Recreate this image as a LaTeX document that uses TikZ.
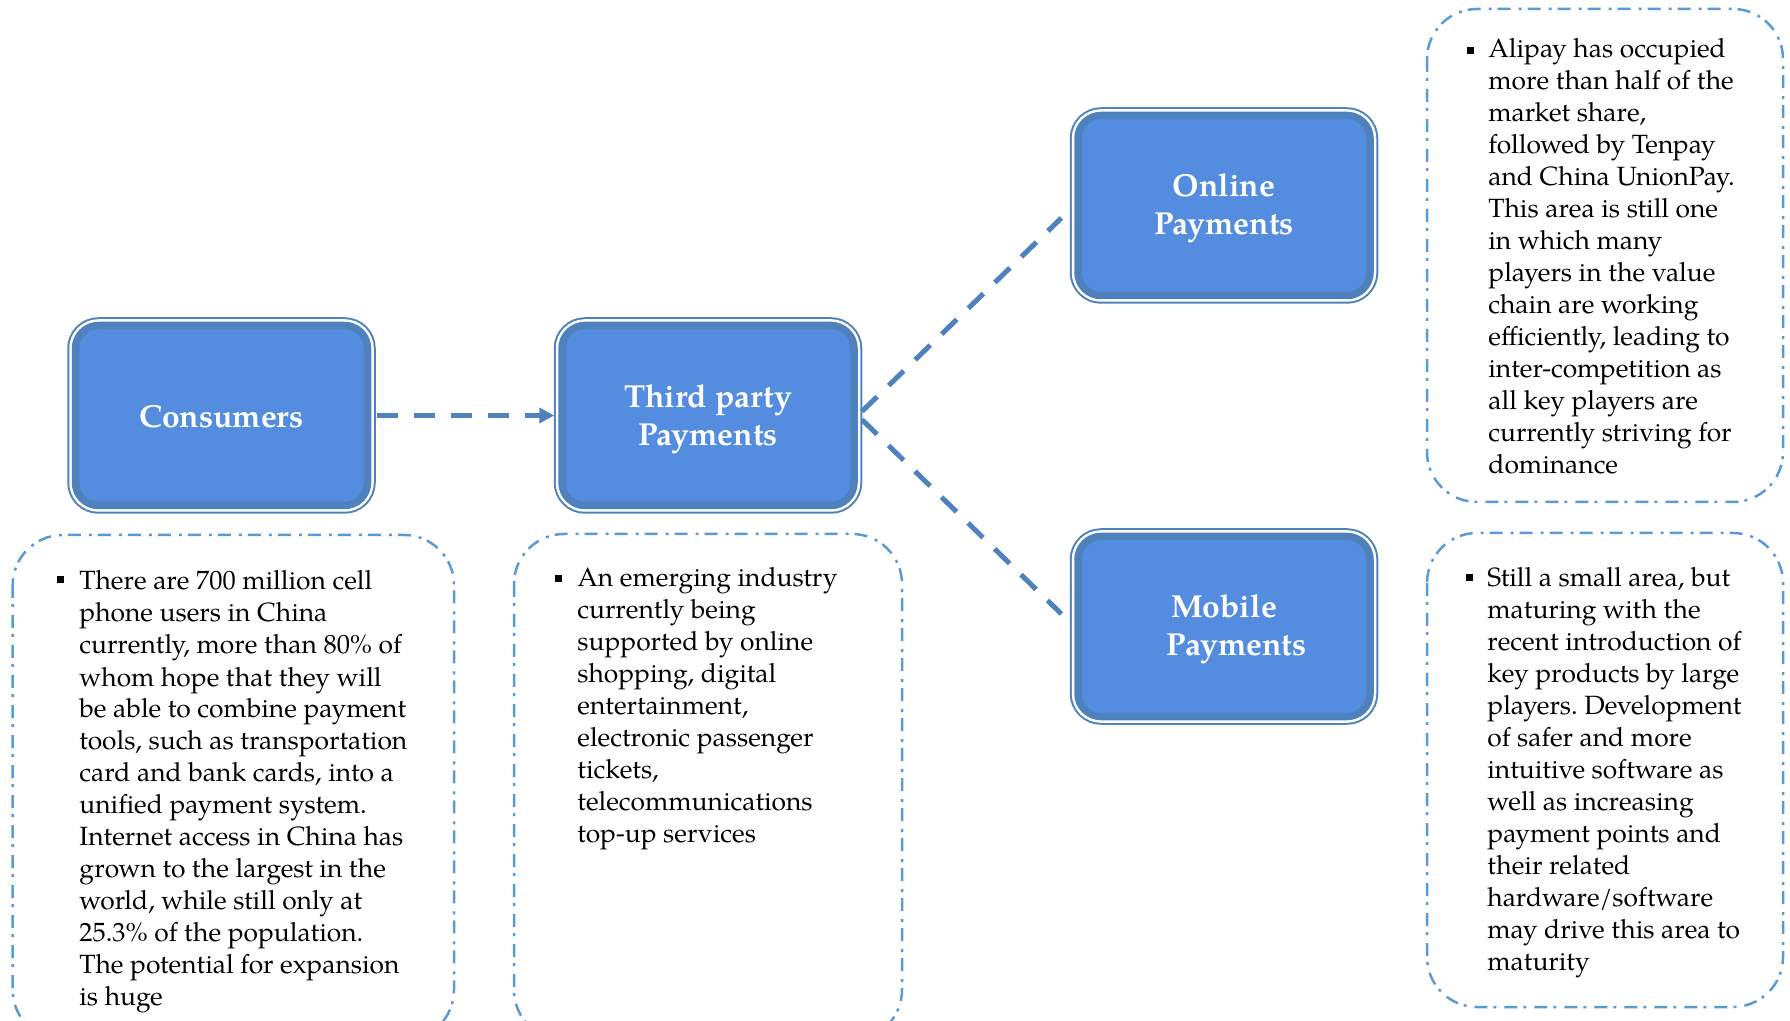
\documentclass[tikz,border=0pt]{standalone}
\usepackage{fontspec}
\setmainfont{TeX Gyre Pagella}
\usetikzlibrary{arrows.meta}

\definecolor{boxfill}{RGB}{84,141,223}
\definecolor{boxline}{RGB}{79,129,189}
\definecolor{notecol}{RGB}{91,155,213}
\definecolor{linkcol}{RGB}{79,129,189}

\tikzset{
  paybox/.style={
    rounded corners=11.5pt, minimum width=146pt, minimum height=90pt,
    inner sep=0pt,
    preaction={draw=boxline, line width=8.25pt},
    preaction={draw=white, line width=6.25pt},
    fill=boxfill, draw=boxline, line width=3.75pt},
  boxlabel/.style={inner sep=0pt, align=center, text=white,
    font=\fontsize{15.9}{19.2}\selectfont\bfseries},
  link/.style={draw=linkcol, line width=2.5pt,
    dash pattern=on 10.5pt off 8pt},
  notebox/.style={draw=notecol, line width=1.25pt, rounded corners=25pt,
    dash pattern=on 6.5pt off 3pt on 1.5pt off 4pt},
  notetext/.style={anchor=base west, inner sep=0pt, text=black},
  bulletsq/.style={fill=black}
}
\newcommand{\notepar}[1]{\parbox[t]{220pt}{\fontsize{13.2}{16}\selectfont\frenchspacing\raggedright #1}}

\begin{document}
\begin{tikzpicture}[x=0.5pt,y=-0.5pt]
\useasboundingbox (0,0) rectangle (1790,1021);
\clip (0,0) rectangle (1790,1021);

% main flow boxes
\node[paybox] (cons) at (221.5,415.5) {};
\node[paybox] (tpp)  at (708,415.5)   {};
\node[paybox] (onl)  at (1224,205.5)  {};
\node[paybox] (mob)  at (1224,626.5)  {};

% box captions
\node[boxlabel] (conslab) at (221.5,416.5) {Consumers};
\node[boxlabel] (tpplab)  at (708,419)     {Third party\\Payments};
\node[boxlabel] (onllab)  at (1224,208.5)  {Online\\Payments};
\node[boxlabel] (moblab)  at (1224,629.5)  {Mobile\\\hspace*{12.5pt}Payments};

% connectors
\draw[link, shorten <=3pt, shorten >=2pt,
      -{Triangle[length=7.5pt,width=7.5pt]}] (cons.east) -- (tpp.west);
\draw[link, shorten <=3pt, shorten >=9pt] (tpp.east) -- (onl.west);
\draw[link, shorten <=3pt, shorten >=9pt] (tpp.east) -- (mob.west);

% description frames
\draw[notebox] (12.7,535) rectangle (454,1040);
\draw[notebox] (514,534) rectangle (902,1040);
\draw[notebox] (1427,9) rectangle (1783,502);
\draw[notebox] (1427,533) rectangle (1783,1007);

% bullets
\fill[bulletsq] (56.5,576.5) rectangle (63.5,583.5);
\fill[bulletsq] (555,575) rectangle (562,582);
\fill[bulletsq] (1466.5,47.5) rectangle (1473.5,54.5);
\fill[bulletsq] (1466,574) rectangle (1473,581);

% descriptions
\node[notetext] (txtcons) at (79,590) {\notepar{There are 700 million cell\\
phone users in China\\
currently, more than 80\% of\\
whom hope that they will\\
be able to combine payment\\
tools, such as transportation\\
card and bank cards, into a\\
unified payment system.\\
Internet access in China has\\
grown to the largest in the\\
world, while still only at\\
25.3\% of the population.\\
The potential for expansion\\
is huge}};

\node[notetext] (txttpp) at (577,587) {\notepar{An emerging industry\\
currently being\\
supported by online\\
shopping, digital\\
entertainment,\\
electronic passenger\\
tickets,\\
telecommunications\\
top-up services}};

\node[notetext] (txtonl) at (1488,57.5) {\notepar{Alipay has occupied\\
more than half of the\\
market share,\\
followed by Tenpay\\
and China UnionPay.\\
This area is still one\\
in which many\\
players in the value\\
chain are working\\
efficiently, leading to\\
inter-competition as\\
all key players are\\
currently striving for\\
dominance}};

\node[notetext] (txtmob) at (1487,587) {\notepar{Still a small area, but\\
maturing with the\\
recent introduction of\\
key products by large\\
players. Development\\
of safer and more\\
intuitive software as\\
well as increasing\\
payment points and\\
their related\\
hardware/software\\
may drive this area to\\
maturity}};
\end{tikzpicture}
\end{document}
